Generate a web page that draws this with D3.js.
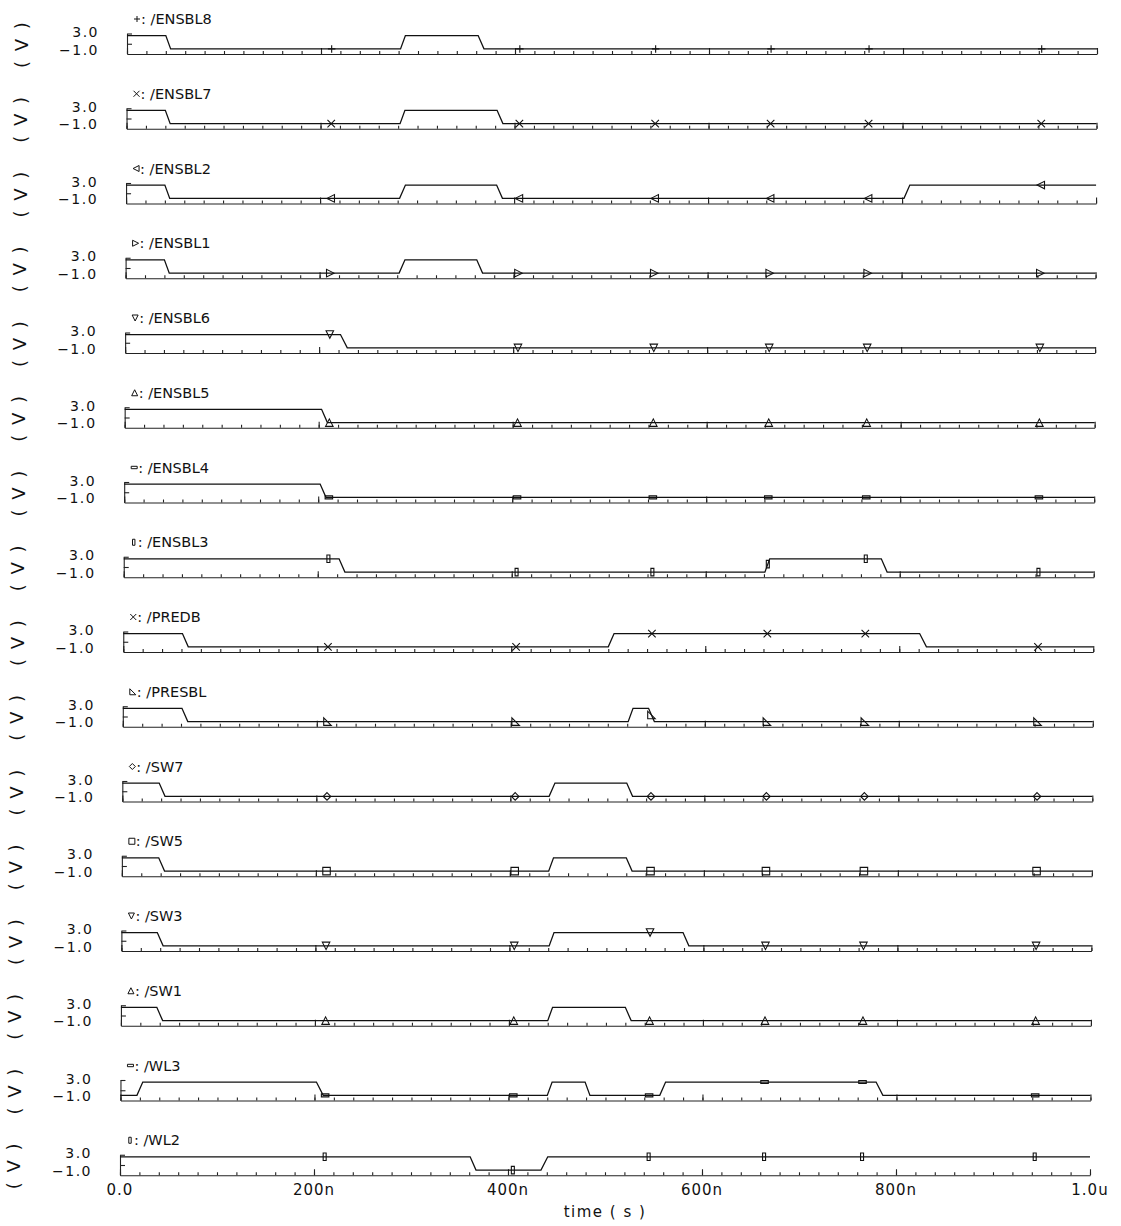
<!DOCTYPE html>
<html>
<head>
<meta charset="utf-8">
<script src="https://cdn.jsdelivr.net/npm/d3@7"></script>
<style>
  body { margin: 0; background: #fff; }
  svg text {
    font-family: "DejaVu Sans", Inter, sans-serif;
    fill: #111;
  }
</style>
</head>
<body>
<svg id="chart" width="1121" height="1226"></svg>
<script>
// signal names, top to bottom
const signals = ["/ENSBL8", "/ENSBL7", "/ENSBL2", "/ENSBL1", "/ENSBL6", "/ENSBL5",
  "/ENSBL4", "/ENSBL3", "/PREDB", "/PRESBL", "/SW7", "/SW5", "/SW3", "/SW1", "/WL3", "/WL2"];

// marker used for each trace
const glyphs = ["plus", "x", "tleft", "tright", "tdown", "tup", "hbar", "vbar",
  "x", "tcorner", "diamond", "square", "tdown", "tup", "hbar", "vbar"];

// breakpoints [time ns, volts]
const waves = [
  [[0, 2.6], [40, 2.6], [45, 0], [282, 0], [287, 2.6], [362, 2.6], [368, 0], [1000, 0]],
  [[0, 2.6], [40, 2.6], [45, 0], [282, 0], [287, 2.6], [382, 2.6], [388, 0], [1000, 0]],
  [[0, 2.6], [40, 2.6], [45, 0], [282, 0], [288, 2.6], [382, 2.6], [388, 0], [802, 0], [808, 2.6], [1000, 2.6]],
  [[0, 2.6], [40, 2.6], [45, 0], [282, 0], [288, 2.6], [362, 2.6], [368, 0], [1000, 0]],
  [[0, 2.6], [222, 2.6], [229, 0], [1000, 0]],
  [[0, 2.6], [203, 2.6], [209, 0], [1000, 0]],
  [[0, 2.6], [202, 2.6], [208, 0], [1000, 0]],
  [[0, 2.6], [222, 2.6], [228, 0], [661, 0], [666, 2.6], [781, 2.6], [787, 0], [1000, 0]],
  [[0, 2.6], [61, 2.6], [67, 0], [500, 0], [506, 2.6], [821, 2.6], [828, 0], [1000, 0]],
  [[0, 2.6], [61, 2.6], [67, 0], [521, 0], [526, 2.6], [542, 2.6], [548, 0], [1000, 0]],
  [[0, 2.6], [38, 2.6], [44, 0], [440, 0], [446, 2.6], [520, 2.6], [526, 0], [1000, 0]],
  [[0, 2.6], [38, 2.6], [44, 0], [440, 0], [445, 2.6], [520, 2.6], [526, 0], [1000, 0]],
  [[0, 2.6], [37, 2.6], [43, 0], [441, 0], [446, 2.6], [579, 2.6], [585, 0], [1000, 0]],
  [[0, 2.6], [37, 2.6], [43, 0], [440, 0], [445, 2.6], [520, 2.6], [526, 0], [1000, 0]],
  [[0, 0], [17, 0], [23, 2.6], [202, 2.6], [209, 0], [440, 0], [445, 2.6], [479, 2.6], [484, 0],
    [556, 0], [562, 2.6], [779, 2.6], [786, 0], [1000, 0]],
  [[0, 2.6], [361, 2.6], [367, 0], [434, 0], [441, 2.6], [1000, 2.6]]
];

// where the markers sit along every trace (ns)
const markerTimes = [211, 405, 545, 664, 765, 943];

const timeTicks = [0, 200, 400, 600, 800, 1000];
const timeTickLabels = ["0.0", "200n", "400n", "600n", "800n", "1.0u"];
const voltLabels = ["3.0", "\u22121.0"];

function glyph(kind, s) {
  const h = s / 2;
  switch (kind) {
    case "plus": return `M${-h},0H${h}M0,${-h}V${h}`;
    case "x": return `M${-h},${-h}L${h},${h}M${-h},${h}L${h},${-h}`;
    case "tup": return `M0,${-h}L${h},${h}L${-h},${h}Z`;
    case "tdown": return `M${-h},${-h}L${h},${-h}L0,${h}Z`;
    case "tleft": return `M${h},${-h}L${h},${h}L${-h},0Z`;
    case "tright": return `M${-h},${-h}L${-h},${h}L${h},0Z`;
    case "tcorner": return `M${-h},${-h}L${-h},${h}L${h},${h}Z`;
    case "diamond": return `M0,${-h}L${h},0L0,${h}L${-h},0Z`;
    case "square": return `M${-h},${-h}H${h}V${h}H${-h}Z`;
    case "hbar": return `M${-h},${-h / 2.5}H${h}V${h / 2.5}H${-h}Z`;
    case "vbar": return `M${-h / 2.5},${-h}H${h / 2.5}V${h}H${-h / 2.5}Z`;
  }
}

// value of a trace at time t (for placing markers on it)
function valueAt(w, t) {
  for (let k = 1; k < w.length; k++) {
    if (t <= w[k][0]) {
      const a = w[k - 1], b = w[k];
      return a[1] + (b[1] - a[1]) * (t - a[0]) / (b[0] - a[0]);
    }
  }
  return w[w.length - 1][1];
}

const svg = d3.select("#chart");
svg.append("rect").attr("width", 1121).attr("height", 1226).attr("fill", "#fff");

const x = d3.scaleLinear().domain([0, 1000]).range([127, 1097]);
const y = d3.scaleLinear().domain([-1, 3]).range([0, -20.5]);
const line = d3.line().x(d => x(d[0])).y(d => y(d[1]));

const top0 = 54, step = 74.75, skew = -0.467;

signals.forEach((name, i) => {
  const g = svg.append("g")
    .attr("transform", `translate(${skew * i},${top0 + step * i})`);

  // bottom axis, ticks pointing up
  g.append("g")
    .call(d3.axisTop(x).tickValues(d3.range(0, 1001, 20)).tickSize(3).tickSizeOuter(0).tickFormat(""))
    .call(a => a.selectAll("path,line").attr("stroke", "#222").attr("stroke-width", 1.1));
  g.append("g")
    .call(d3.axisTop(x).tickValues(timeTicks).tickSize(6).tickSizeOuter(0).tickFormat(""))
    .call(a => a.select(".domain").remove())
    .call(a => a.selectAll("line").attr("stroke", "#222").attr("stroke-width", 1.1));

  // left edge
  g.append("g")
    .attr("transform", `translate(${x(0)},0)`)
    .call(d3.axisRight(y).tickValues([1, 3]).tickSize(5).tickSizeOuter(0).tickFormat(""))
    .call(a => a.selectAll("path,line").attr("stroke", "#222").attr("stroke-width", 1.1));

  // trace
  g.append("path")
    .attr("d", line(waves[i]))
    .attr("fill", "none")
    .attr("stroke", "#111")
    .attr("stroke-width", 1.3);

  // markers on trace
  g.selectAll(".mk")
    .data(markerTimes)
    .enter()
    .append("path")
    .attr("class", "mk")
    .attr("transform", t => `translate(${x(t)},${y(valueAt(waves[i], t))})`)
    .attr("d", glyph(glyphs[i], 7.5))
    .attr("fill", "none")
    .attr("stroke", "#111")
    .attr("stroke-width", 1.1);

  // title with its marker
  g.append("path")
    .attr("transform", `translate(${x(0) + 10},${-35})`)
    .attr("d", glyph(glyphs[i], 6))
    .attr("fill", "none")
    .attr("stroke", "#111")
    .attr("stroke-width", 1);
  g.append("text")
    .attr("x", x(0) + 14)
    .attr("y", -30)
    .attr("font-size", 14.5)
    .text(": " + name);

  // volt labels
  g.append("text")
    .attr("x", 99).attr("y", -17)
    .attr("text-anchor", "end").attr("font-size", 14)
    .attr("letter-spacing", 1.5)
    .text(voltLabels[0]);
  g.append("text")
    .attr("x", 99).attr("y", 0.5)
    .attr("text-anchor", "end").attr("font-size", 14)
    .attr("letter-spacing", 1.5)
    .text(voltLabels[1]);

  // unit
  g.append("text")
    .attr("transform", `translate(21,${-10}) rotate(-90)`)
    .attr("text-anchor", "middle")
    .attr("dominant-baseline", "central")
    .attr("font-size", 18)
    .attr("letter-spacing", 2)
    .text("( V )");

  if (i === signals.length - 1) {
    g.selectAll(".tl")
      .data(timeTicks)
      .enter()
      .append("text")
      .attr("class", "tl")
      .attr("x", d => x(d))
      .attr("y", 20)
      .attr("text-anchor", "middle")
      .attr("font-size", 15)
      .attr("letter-spacing", 1)
      .text((d, k) => timeTickLabels[k]);
    g.append("text")
      .attr("x", (x(0) + x(1000)) / 2)
      .attr("y", 42)
      .attr("text-anchor", "middle")
      .attr("font-size", 15)
      .attr("letter-spacing", 1.5)
      .text("time ( s )");
  }
});
</script>
</body>
</html>
